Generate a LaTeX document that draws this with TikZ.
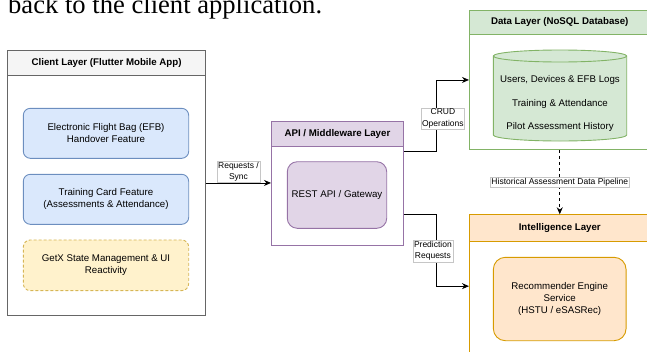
\documentclass[tikz,border=0pt]{standalone}
\usepackage{fontspec}
\setmainfont{Liberation Sans}
\newfontfamily\bodyserif{Liberation Serif}
\usetikzlibrary{arrows.meta,calc}

\definecolor{greyline}{HTML}{666666}
\definecolor{greyfill}{HTML}{F5F5F5}
\definecolor{blueline}{HTML}{6C8EBF}
\definecolor{bluefill}{HTML}{DAE8FC}
\definecolor{yellowline}{HTML}{D6B656}
\definecolor{yellowfill}{HTML}{FFF2CC}
\definecolor{purpleline}{HTML}{9673A6}
\definecolor{purplefill}{HTML}{E1D5E7}
\definecolor{greenline}{HTML}{82B366}
\definecolor{greenfill}{HTML}{D5E8D4}
\definecolor{orangeline}{HTML}{D79B00}
\definecolor{orangefill}{HTML}{FFE6CC}

\tikzset{
  frame/.style={draw, anchor=north west, inner sep=0pt, line width=0.9pt},
  head/.style={draw, anchor=north west, inner sep=0pt, line width=0.9pt,
    font=\bfseries\fontsize{9.7}{11.6}\selectfont},
  box/.style={draw, rounded corners=7pt, align=center, inner sep=2pt, line width=0.9pt,
    font=\fontsize{9.7}{11.7}\selectfont},
  tag/.style={draw=gray!45, fill=white, solid, align=center, inner sep=1pt, line width=0.5pt,
    font=\fontsize{8.5}{11.7}\selectfont},
  arr/.style={-{Stealth[length=7pt,width=6pt]}, line width=0.9pt},
}

\begin{document}
\begin{tikzpicture}[x=1pt,y=-1pt]
\useasboundingbox (0,0) rectangle (647,351);

% running text above the figure
\node [anchor=base west, inner sep=0pt, font=\bodyserif\fontsize{26.6}{30}\selectfont] (lead) at (8,13) {back to the client application.};

% client layer
\node [frame, draw=greyline, minimum width=197.7pt, minimum height=265pt] (client) at (7.3,50) {};
\node [head, draw=greyline, fill=greyfill, minimum width=197.7pt, minimum height=25pt] (clienthead) at (client.north west) {Client Layer (Flutter Mobile App)};
\node [box, draw=blueline, fill=bluefill, minimum width=165.4pt, minimum height=50pt] (efb) at (106,133.3) {Electronic Flight Bag (EFB)\\Handover Feature};
\node [box, draw=blueline, fill=bluefill, minimum width=165.4pt, minimum height=50pt] (card) at (106,199.3) {Training Card Feature\\(Assessments \& Attendance)};
\node [box, draw=yellowline, fill=yellowfill, dash pattern=on 3pt off 2pt, minimum width=165.4pt, minimum height=50.7pt] (getx) at (106,265.3) {GetX State Management \& UI\\Reactivity};

% api layer
\node [frame, draw=purpleline, minimum width=132pt, minimum height=124.3pt] (api) at (271,120.7) {};
\node [head, draw=purpleline, fill=purplefill, minimum width=132pt, minimum height=25pt] (apihead) at (api.north west) {API / Middleware Layer};
\node [box, draw=purpleline, fill=purplefill, rounded corners=10pt, minimum width=99.4pt, minimum height=66.6pt] (rest) at (337,195) {REST API / Gateway};

% data layer
\node [frame, draw=greenline, minimum width=180.6pt, minimum height=139pt] (data) at (469,10) {};
\node [head, draw=greenline, fill=greenfill, minimum width=180.6pt, minimum height=24pt] (datahead) at (data.north west) {Data Layer (NoSQL Database)};
\filldraw [draw=greenline, fill=greenfill, line width=0.9pt] (493.3,56) -- (493.3,135) arc (180:0:66.7 and 6) -- (626.7,56) arc (0:-180:66.7 and 6) -- cycle;
\draw [greenline, line width=0.9pt] (493.3,56) arc (180:0:66.7 and 6);
\node [align=center, font=\fontsize{9.7}{11.7}\selectfont] (db) at (560,103.5) {Users, Devices \& EFB Logs\\[11.8pt]Training \& Attendance\\[11.8pt]Pilot Assessment History};

% intelligence layer
\node [frame, draw=orangeline, minimum width=180.6pt, minimum height=142.8pt] (intel) at (469,214.3) {};
\node [head, draw=orangeline, fill=orangefill, minimum width=180.6pt, minimum height=26.4pt] (intelhead) at (intel.north west) {Intelligence Layer};
\node [box, draw=orangeline, fill=orangefill, rounded corners=12pt, minimum width=132.7pt, minimum height=83.4pt] (recsys) at (559.7,299) {Recommender Engine\\Service\\(HSTU / eSASRec)};

% connectors
\draw [arr] (client.east) -- (client.east -| api.west) node [tag, midway, above] {Requests /\\Sync};
\draw [arr] ($(api.north east)+(0,31)$) -- ++(33,0) |- (data.west) node [tag, pos=0.23, xshift=6pt] {CRUD\\Operations};
\draw [arr] ($(api.north east)+(0,93.6)$) -- ++(33,0) |- (intel.west) node [tag, pos=0.255, xshift=-4pt] {Prediction\\Requests};
\draw [arr, dash pattern=on 3pt off 3pt] (data.south) -- (intel.north) node [tag, midway] {Historical Assessment Data Pipeline};

\end{tikzpicture}
\end{document}
